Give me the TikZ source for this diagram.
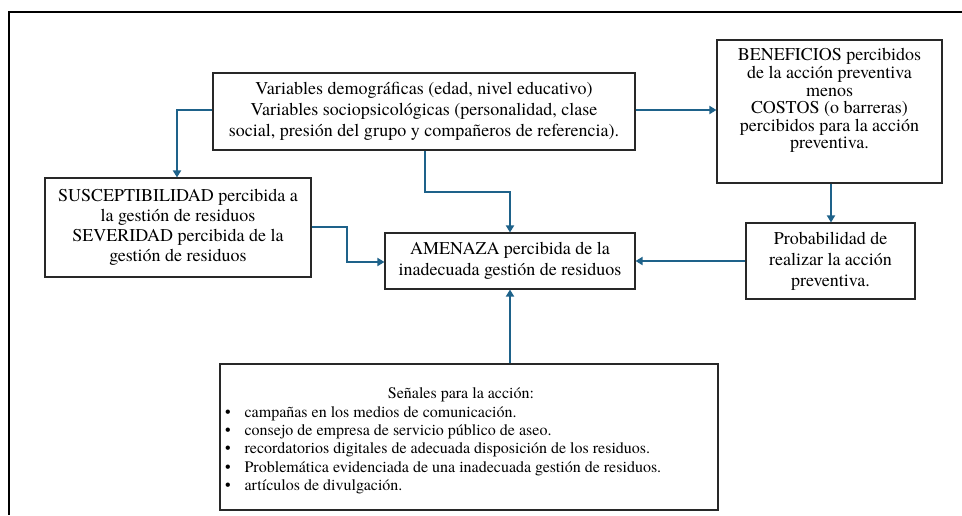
\documentclass[tikz,border=0pt]{standalone}
\usepackage{fontspec}
\setmainfont{TeX Gyre Termes}
\usetikzlibrary{arrows.meta}
\definecolor{arrowblue}{RGB}{30,98,138}
\definecolor{boxline}{RGB}{40,40,40}
\tikzset{
  box/.style={draw=boxline, line width=1.1pt, align=center, inner sep=0pt,
    font=\fontsize{18}{21}\selectfont},
  conn/.style={draw=arrowblue, line width=1.9pt,
    -{Triangle[width=8pt,length=7pt]}},
  frameline/.style={draw=black, line width=2.4pt}
}
\begin{document}
\begin{tikzpicture}[x=1pt,y=-1pt]
\useasboundingbox (0,0) rectangle (962,515);
\draw[frameline] (962,12) -- (9,12) -- (9,515);

\node[box, minimum width=422pt, minimum height=77pt] (var) at (424,111.5)
  {Variables demográficas (edad, nivel educativo)\\
   Variables sociopsicológicas (personalidad, clase\\
   social, presión del grupo y compañeros de referencia).};
\node[box, minimum width=225pt, minimum height=143pt,
  font=\fontsize{18}{17.6}\selectfont] (ben) at (829.5,111.5)
  {BENEFICIOS percibidos\\ de la acción preventiva\\ menos\\ COSTOS (o barreras)\\ percibidos para la acción\\ preventiva.\\[8pt]\mbox{}};
\node[box, minimum width=266pt, minimum height=99pt,
  font=\fontsize{18}{20}\selectfont] (sus) at (178,227.5)
  {SUSCEPTIBILIDAD percibida a\\ la gestión de residuos\\ SEVERIDAD percibida de la\\ gestión de residuos};
\node[box, minimum width=250pt, minimum height=56pt] (ame) at (510,261)
  {AMENAZA percibida de la\\ inadecuada gestión de residuos};
\node[box, minimum width=169pt, minimum height=76pt] (pro) at (830.5,261)
  {Probabilidad de\\ realizar la acción\\ preventiva.};
\node[box, minimum width=498pt, minimum height=146pt, align=left,
  font=\fontsize{16}{18.3}\selectfont] (sen) at (469,437)
  {\parbox{488pt}{\vspace*{8pt}\centering\hspace*{-16pt}Señales para la acción:\\[0pt]
   \raggedright
   •\hspace{14pt}campañas en los medios de comunicación.\\
   •\hspace{14pt}consejo de empresa de servicio público de aseo.\\
   •\hspace{14pt}recordatorios digitales de adecuada disposición de los residuos.\\
   •\hspace{14pt}Problemática evidenciada de una inadecuada gestión de residuos.\\
   •\hspace{14pt}artículos de divulgación.}};

\coordinate (c1) at (177,110);
\coordinate (c2a) at (425,192);
\coordinate (c2b) at (510,192);
\coordinate (c3a) at (347,227);
\coordinate (c3b) at (347,262);

\draw[conn] (var.west |- c1) -- (c1) -- (c1 |- sus.north);
\draw[conn] (var.east |- c1) -- (ben.west |- c1);
\draw[conn] (var.south -| c2a) -- (c2a) -- (c2b) -- (ame.north);
\draw[conn] (sus.east |- c3a) -- (c3a) -- (c3b) -- (ame.west |- c3b);
\draw[conn] (ben.south -| 831,0) -- (pro.north -| 831,0);
\draw[conn] (pro.west) -- (ame.east);
\draw[conn] (sen.north -| ame.south) -- (ame.south);
\end{tikzpicture}
\end{document}
